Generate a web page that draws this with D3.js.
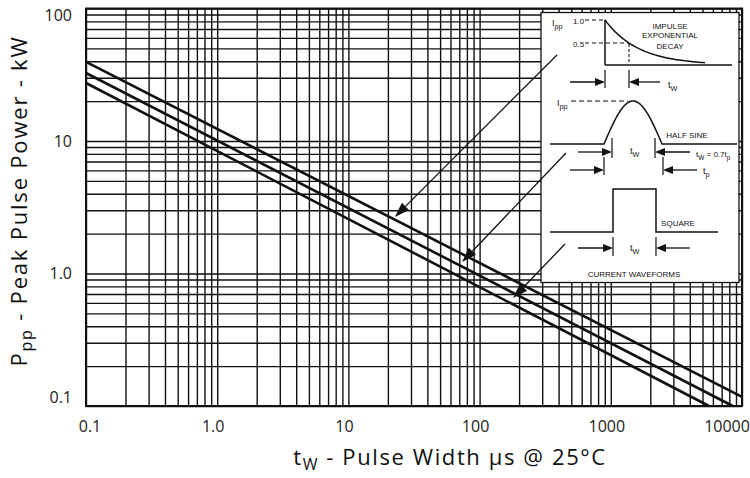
<!DOCTYPE html>
<html><head><meta charset="utf-8">
<script src="https://cdn.jsdelivr.net/npm/d3@7"></script>
<style>body{margin:0;background:#fff}svg{display:block}</style>
</head><body><svg id="c" width="750" height="478"></svg>
<script>
// ---------- data ----------
const xDomain = [0.1, 10000];           // pulse width, µs
const yDomain = [0.1, 100];             // peak pulse power, kW
const xTickValues = [0.1, 1, 10, 100, 1000, 10000];
const xTickLabels = ["0.1", "1.0", "10", "100", "1000", "10000"];
const yTickValues = [0.1, 1, 10, 100];
const yTickLabels = ["0.1", "1.0", "10", "100"];
const seriesNames = ["Impulse exponential decay", "Half sine", "Square"];
const seriesX = [[0.1, 10000], [0.1, 8500], [0.1, 5600]];
const seriesY = [[39.5, 0.117], [32.6, 0.1], [27.4, 0.1]];
// arrow tips pointing at each curve (data space)
const arrowTipX = [22.6, 73.5, 180];
const arrowTipY = [2.67, 1.22, 0.653];

// ---------- layout ----------
const svg = d3.select("#c");
const L = 86, R = 742, T = 8.5, B = 406;
const x = d3.scaleLog().domain(xDomain).range([L, R]);
const y = d3.scaleLog().domain(yDomain).range([B, T]);
const ink = "#111";

// grid
svg.append("g").attr("transform", `translate(0,${B})`)
  .call(d3.axisBottom(x).tickValues(x.ticks()).tickSize(-(B - T)).tickFormat(""))
  .call(g => g.select(".domain").remove())
  .selectAll("line").attr("stroke", ink).attr("stroke-width", 1.4);
svg.append("g").attr("transform", `translate(${L},0)`)
  .call(d3.axisLeft(y).tickValues(y.ticks()).tickSize(-(R - L)).tickFormat(""))
  .call(g => g.select(".domain").remove())
  .selectAll("line").attr("stroke", ink).attr("stroke-width", 1.4);
svg.append("rect").attr("x", L).attr("y", T).attr("width", R - L).attr("height", B - T)
  .attr("fill", "none").attr("stroke", ink).attr("stroke-width", 2);

// tick labels
const tickFont = "'Open Sans', sans-serif";
svg.append("g").selectAll("text").data(xTickValues).join("text")
  .attr("x", d => Math.max(90, Math.min(727, x(d) - 4)))
  .attr("y", 432).attr("text-anchor", "middle")
  .attr("font-family", tickFont).attr("font-size", 16).attr("fill", "#222")
  .text((d, i) => xTickLabels[i]);
svg.append("g").selectAll("text").data(yTickValues).join("text")
  .attr("x", 72).attr("y", d => Math.max(15, Math.min(397, y(d))))
  .attr("dy", "0.35em").attr("text-anchor", "end")
  .attr("font-family", tickFont).attr("font-size", 16).attr("fill", "#222")
  .text((d, i) => yTickLabels[i]);

// axis titles
const xt = svg.append("text").attr("x", 450).attr("y", 465).attr("text-anchor", "middle")
  .attr("font-family", tickFont).attr("font-size", 22).attr("letter-spacing", 1.6).attr("fill", "#111");
xt.append("tspan").text("t");
xt.append("tspan").attr("font-size", 16).attr("dy", 5).text("W");
xt.append("tspan").attr("dy", -5).text(" - Pulse Width μs @ 25°C");

const yt = svg.append("text").attr("transform", "translate(27,201) rotate(-90)")
  .attr("text-anchor", "middle")
  .attr("font-family", tickFont).attr("font-size", 22).attr("letter-spacing", 1.8).attr("fill", "#111");
yt.append("tspan").text("P");
yt.append("tspan").attr("font-size", 16).attr("dy", 5).text("pp");
yt.append("tspan").attr("dy", -5).text(" - Peak Pulse Power - kW");

// curves
const line = d3.line().x(d => x(d[0])).y(d => y(d[1]));
svg.append("g").selectAll("path").data(seriesNames).join("path")
  .attr("d", (n, i) => line(seriesX[i].map((v, k) => [v, seriesY[i][k]])))
  .attr("fill", "none").attr("stroke", ink).attr("stroke-width", 2.6);

// ---------- inset ----------
const ins = svg.append("g");
ins.append("rect").attr("x", 541).attr("y", 12.5).attr("width", 198).attr("height", 270)
  .attr("fill", "#fff").attr("stroke", ink).attr("stroke-width", 1.3);

const sm = "'Liberation Sans', Arial, sans-serif";
function label(xp, yp, txt, size, anchor) {
  return ins.append("text").attr("x", xp).attr("y", yp).attr("font-family", sm)
    .attr("font-size", size || 8).attr("text-anchor", anchor || "start").attr("fill", "#111").text(txt);
}
function subLabel(xp, yp, main, sub, size, after) {
  const t = ins.append("text").attr("x", xp).attr("y", yp).attr("font-family", sm)
    .attr("font-size", size || 9).attr("fill", "#111");
  t.append("tspan").text(main);
  t.append("tspan").attr("font-size", (size || 9) * 0.8).attr("dy", 3).text(sub);
  if (after) after(t);
  return t;
}
function seg(x1, y1, x2, y2, w, dash) {
  ins.append("line").attr("x1", x1).attr("y1", y1).attr("x2", x2).attr("y2", y2)
    .attr("stroke", ink).attr("stroke-width", w || 1.3).attr("stroke-dasharray", dash || null);
}
function head(tx, ty, dir, len, hw) { // dir +1 points right, -1 left
  len = len || 10; hw = hw || 4;
  ins.append("path").attr("d", `M${tx},${ty}L${tx - dir * len},${ty - hw}L${tx - dir * len},${ty + hw}Z`).attr("fill", ink);
}
function dimArrows(xa, xb, yy, y1, y2, leftStart, rightEnd) {
  seg(xa, y1, xa, y2, 1.2); seg(xb, y1, xb, y2, 1.2);
  seg(leftStart, yy, xa - 2, yy); head(xa, yy, 1);
  seg(xb + 2, yy, rightEnd, yy); head(xb, yy, -1);
}

// impulse exponential decay
subLabel(552, 26, "I", "pp", 9);
label(573, 24, "1.0", 8);
label(573, 47, "0.5", 8);
seg(585, 20, 604, 20, 1.1, "4,3");
seg(585, 43, 629, 43, 1.1, "4,3");
seg(629, 44, 629, 63, 1.1, "3,2");
const dx = d3.range(605, 706, 2);
ins.append("path").attr("d", d3.line()(dx.map(v => [v, 65 - 45 * Math.exp(-(v - 605) / 33.5)])))
  .attr("fill", "none").attr("stroke", ink).attr("stroke-width", 1.5);
seg(605, 20, 605, 65, 1.5);
seg(605, 65, 732, 65, 1.5);
label(670, 29, "IMPULSE", 8, "middle");
label(670, 38, "EXPONENTIAL", 8, "middle");
label(670, 49, "DECAY", 8, "middle");
dimArrows(605, 629, 82, 70, 88, 570, 660);
subLabel(668, 88, "t", "W", 9);

// half sine
subLabel(557, 106, "I", "pp", 9);
seg(571, 101, 628, 101, 1.1, "5,3");
const hs = d3.range(604, 663, 1);
ins.append("path").attr("d", d3.line()([[550, 144]].concat(hs.map(v => [v, 144 - 43 * Math.sin(Math.PI * (v - 604) / 58)])).concat([[662, 144], [737, 144]])))
  .attr("fill", "none").attr("stroke", ink).attr("stroke-width", 1.5);
label(687, 138, "HALF SINE", 8, "middle");
dimArrows(612, 655, 152, 138, 158, 578, 690);
subLabel(630, 154, "t", "W", 9);
subLabel(696, 157, "t", "W", 8, t => { t.append("tspan").attr("dy", -3).text(" = 0.7t"); t.append("tspan").attr("font-size", 6.4).attr("dy", 3).text("p"); });
dimArrows(604, 663, 170, 157, 175, 570, 697);
subLabel(703, 174, "t", "p", 9);

// square
ins.append("path").attr("d", d3.line()([[550, 232], [613, 232], [613, 189], [656, 189], [656, 232], [718, 232]]))
  .attr("fill", "none").attr("stroke", ink).attr("stroke-width", 1.5);
label(678, 226, "SQUARE", 8, "middle");
dimArrows(613, 656, 248, 237, 256, 578, 690);
subLabel(630, 251, "t", "W", 9);
label(634, 277, "CURRENT WAVEFORMS", 8, "middle");

// long arrows from inset to curves
const arrowStarts = [[557, 55], [566, 153], [565, 244]];
arrowTipX.forEach((tx, i) => {
  const px = x(tx), py = y(arrowTipY[i]);
  const [sx, sy] = arrowStarts[i];
  const ang = Math.atan2(py - sy, px - sx);
  const len = 15, hw = 5;
  const bx = px - len * Math.cos(ang), by = py - len * Math.sin(ang);
  svg.append("line").attr("x1", sx).attr("y1", sy).attr("x2", bx).attr("y2", by)
    .attr("stroke", ink).attr("stroke-width", 1.3);
  svg.append("path").attr("d", `M${px},${py}L${bx + hw * Math.sin(ang)},${by - hw * Math.cos(ang)}L${bx - hw * Math.sin(ang)},${by + hw * Math.cos(ang)}Z`)
    .attr("fill", ink);
});
</script></body></html>
